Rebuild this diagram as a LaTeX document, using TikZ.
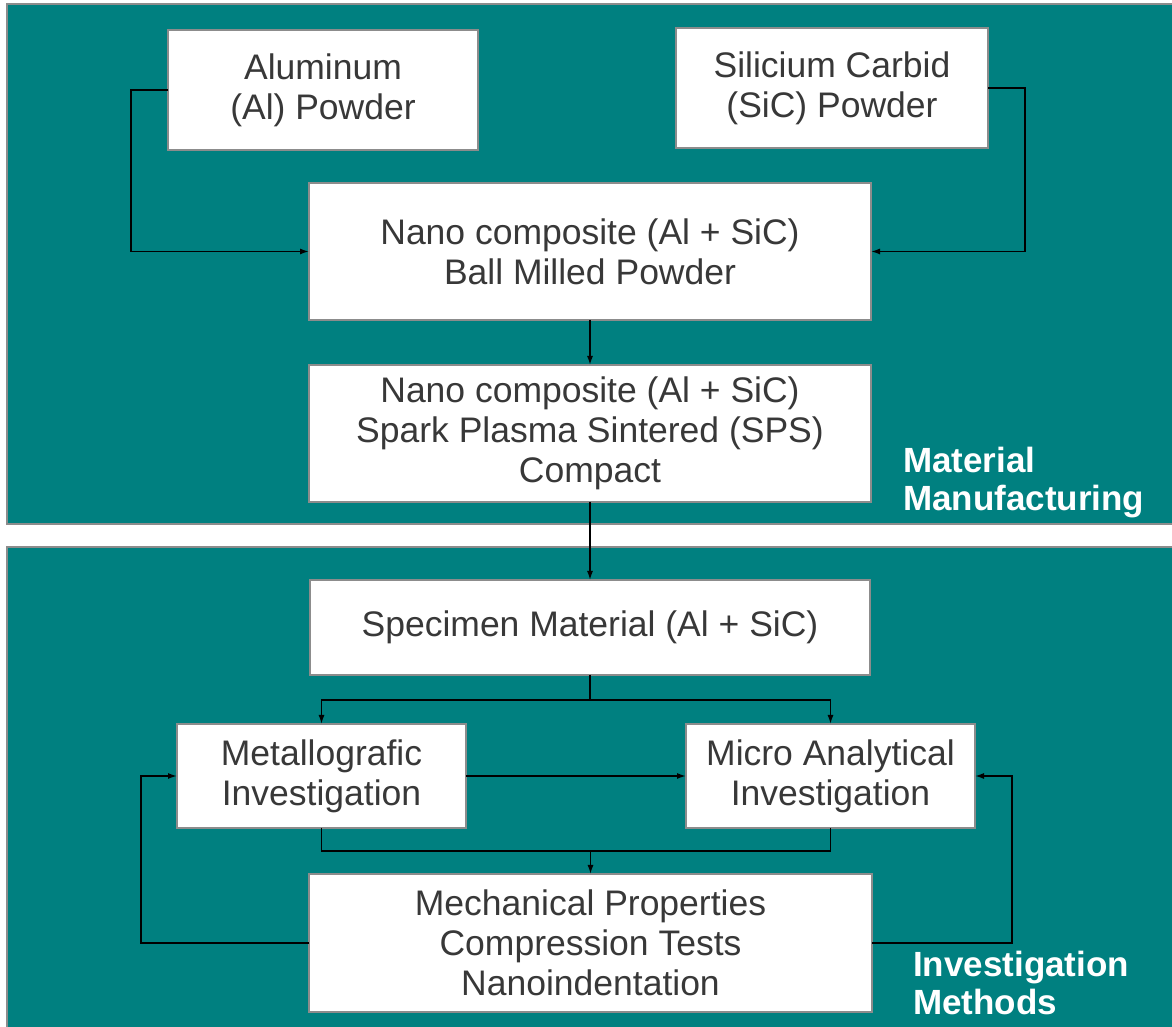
\documentclass[tikz,border=0pt]{standalone}
\usepackage{fontspec}
\setmainfont{Liberation Sans}
\usepackage{xcolor}
\usepackage{tikz}
\usetikzlibrary{arrows.meta,positioning}
\definecolor{panelteal}{RGB}{0,128,128}
\definecolor{edgegray}{RGB}{140,140,140}
\tikzset{
  flowpicture/.style={x=1pt, y=1pt},
  flowpanel/.style={draw=edgegray, line width=1.5pt, fill=panelteal},
  flowbox/.style={draw=edgegray, line width=1.5pt, fill=white, align=center, text=black!78, font=\fontsize{35.5}{40}\selectfont, inner sep=0pt, outer sep=0pt},
  flowlabel/.style={align=left, text=white, font=\fontsize{35}{38}\selectfont\bfseries, inner sep=0pt, anchor=west},
  flowarrow/.style={-{Latex[length=9pt, width=6pt]}, line width=1.5pt},
  flowline/.style={line width=1.5pt}
}
\begin{document}
\begin{tikzpicture}[flowpicture]
\useasboundingbox (0,0) rectangle (1172,1027);
\clip (0,0) rectangle (1172,1027);
\fill[white] (0,0) rectangle (1172,1027);
% panels
\draw[flowpanel] (7,1023) rectangle (1185,503);
\draw[flowpanel] (7,480) rectangle (1185,-10);
\node[flowlabel] (mfglabel) at (903,544) {Material\\Manufacturing};
\node[flowlabel] (invlabel) at (913,44) {Investigation\\Methods};
% boxes
\node[flowbox, minimum width=310pt, minimum height=120pt] (al) at (323,937) {Aluminum\\(Al) Powder};
\node[flowbox, minimum width=312pt, minimum height=120pt] (sic) at (832,939) {Silicium Carbid\\(SiC) Powder};
\node[flowbox, minimum width=562pt, minimum height=137pt] (mill) at (590,775.5) {Nano composite (Al + SiC)\\Ball Milled Powder};
\node[flowbox, minimum width=562pt, minimum height=137pt, below=45pt of mill] (sps) {Nano composite (Al + SiC)\\Spark Plasma Sintered (SPS)\\Compact};
\node[flowbox, minimum width=560pt, minimum height=95pt, below=78pt of sps] (spec) {Specimen Material (Al + SiC)};
\node[flowbox, minimum width=289pt, minimum height=104pt] (metal) at (321.5,251) {Metallografic\\Investigation};
\node[flowbox, minimum width=289pt, minimum height=104pt] (micro) at (830.5,251) {Micro Analytical\\Investigation};
\node[flowbox, minimum width=563pt, minimum height=138pt] (mech) at (590.5,84) {Mechanical Properties\\Compression Tests\\Nanoindentation};
% connectors
\draw[flowarrow] (al.west) -- ++(-37,0) |- (mill.west);
\draw[flowarrow] (sic.east) -- ++(37,0) |- (mill.east);
\draw[flowarrow] (mill) -- (sps);
\draw[flowarrow] (sps) -- (spec);
\draw[flowline] (spec.south) -- ([yshift=-25pt]spec.south);
\draw[flowarrow] ([yshift=-25pt]spec.south) -| (metal.north);
\draw[flowarrow] ([yshift=-25pt]spec.south) -| (micro.north);
\draw[flowarrow] (metal.east) -- (micro.west);
\draw[flowline] (metal.south) |- ([yshift=23pt]mech.north) -| (micro.south);
\draw[flowarrow] ([yshift=23pt]mech.north) -- (mech.north);
\draw[flowarrow] (mech.west) -- ++(-168,0) |- (metal.west);
\draw[flowarrow] (mech.east) -- ++(140,0) |- (micro.east);
\end{tikzpicture}
\end{document}
